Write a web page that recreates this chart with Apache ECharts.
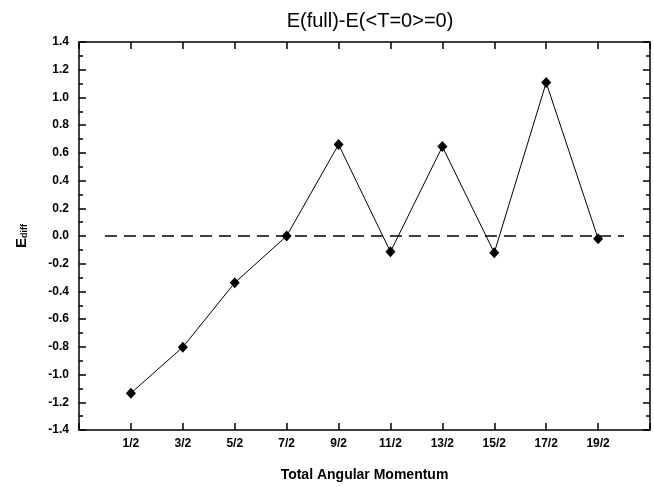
<!DOCTYPE html>
<html>
<head>
<meta charset="utf-8">
<script src="https://cdn.jsdelivr.net/npm/echarts@6/dist/echarts.min.js"></script>
<style>html,body{margin:0;padding:0;background:#fff;}#c{width:654px;height:487px;}</style>
</head>
<body>
<div id="c"></div>
<script>
const categories = ['1/2','3/2','5/2','7/2','9/2','11/2','13/2','15/2','17/2','19/2'];
const ediff = [-1.134, -0.802, -0.338, 0.0, 0.66, -0.114, 0.645, -0.121, 1.107, -0.019];
const refLineX = [0.5, 10.5];
const refLineY = [0, 0];
const yTicks = { min: -1.4, max: 1.4, step: 0.2 };

const mainData = ediff.map((v, i) => [i + 1, v]);
const refData = refLineX.map((x, i) => [x, refLineY[i]]);
const font = 'Liberation Sans, Arial, Helvetica, sans-serif';
const axisLine = { onZero: false, lineStyle: { color: '#000', width: 1.5 } };

const chart = echarts.init(document.getElementById('c'), null, { renderer: 'canvas' });
chart.setOption({
  animation: false,
  backgroundColor: '#fff',
  title: {
    text: 'E(full)-E(<T=0>=0)',
    left: 365, top: 6, textAlign: 'center',
    textStyle: { fontFamily: font, fontSize: 20, fontWeight: 'normal', color: '#000' }
  },
  grid: { left: 79, right: 4, top: 42, bottom: 52, containLabel: false },
  xAxis: [{
    type: 'value', min: 0, max: categories.length + 1, interval: 1,
    position: 'bottom',
    name: 'Total Angular Momentum', nameLocation: 'middle', nameGap: 38,
    nameTextStyle: { fontFamily: font, fontSize: 14, fontWeight: 'bold', color: '#000' },
    axisLine: axisLine,
    axisTick: { inside: true, length: 7, lineStyle: { color: '#000', width: 1.5 } },
    axisLabel: {
      margin: 8, fontFamily: font, fontSize: 12, fontWeight: 'bold', color: '#000',
      formatter: v => (v >= 1 && v <= categories.length) ? categories[v - 1] : ''
    },
    splitLine: { show: false }
  }, {
    type: 'value', min: 0, max: categories.length + 1, interval: 1,
    position: 'top',
    axisLine: axisLine,
    axisTick: { inside: true, length: 7, lineStyle: { color: '#000', width: 1.5 } },
    axisLabel: { show: false },
    splitLine: { show: false }
  }],
  yAxis: [{
    type: 'value', min: yTicks.min, max: yTicks.max, interval: yTicks.step,
    position: 'left',
    name: 'E{sub|diff}', nameLocation: 'middle', nameGap: 50, nameRotate: 90,
    nameTextStyle: {
      fontFamily: font, fontSize: 15, fontWeight: 'bold', color: '#000',
      rich: { sub: { fontFamily: font, fontSize: 9, fontWeight: 'bold', color: '#000', verticalAlign: 'bottom', padding: [6, 0, 0, 0] } }
    },
    axisLine: axisLine,
    axisTick: { inside: true, length: 7, lineStyle: { color: '#000', width: 1.5 } },
    minorTick: { show: true, splitNumber: 2, length: 4, lineStyle: { color: '#000', width: 1.5 } },
    axisLabel: {
      margin: 10, fontFamily: font, fontSize: 12, fontWeight: 'bold', color: '#000',
      formatter: v => v.toFixed(1)
    },
    splitLine: { show: false }
  }, {
    type: 'value', min: yTicks.min, max: yTicks.max, interval: yTicks.step,
    position: 'right',
    axisLine: axisLine,
    axisTick: { inside: true, length: 7, lineStyle: { color: '#000', width: 1.5 } },
    minorTick: { show: true, splitNumber: 2, length: 4, lineStyle: { color: '#000', width: 1.5 } },
    axisLabel: { show: false },
    splitLine: { show: false }
  }],
  series: [{
    type: 'line', data: refData, xAxisIndex: 0, yAxisIndex: 0,
    symbol: 'none', silent: true,
    lineStyle: { color: '#000', width: 1.6, type: [12, 7] }
  }, {
    type: 'line', data: mainData, xAxisIndex: 0, yAxisIndex: 0,
    symbol: 'diamond', symbolSize: [10, 11], showAllSymbol: true,
    itemStyle: { color: '#000' },
    lineStyle: { color: '#000', width: 1 }
  }]
});
</script>
</body>
</html>
